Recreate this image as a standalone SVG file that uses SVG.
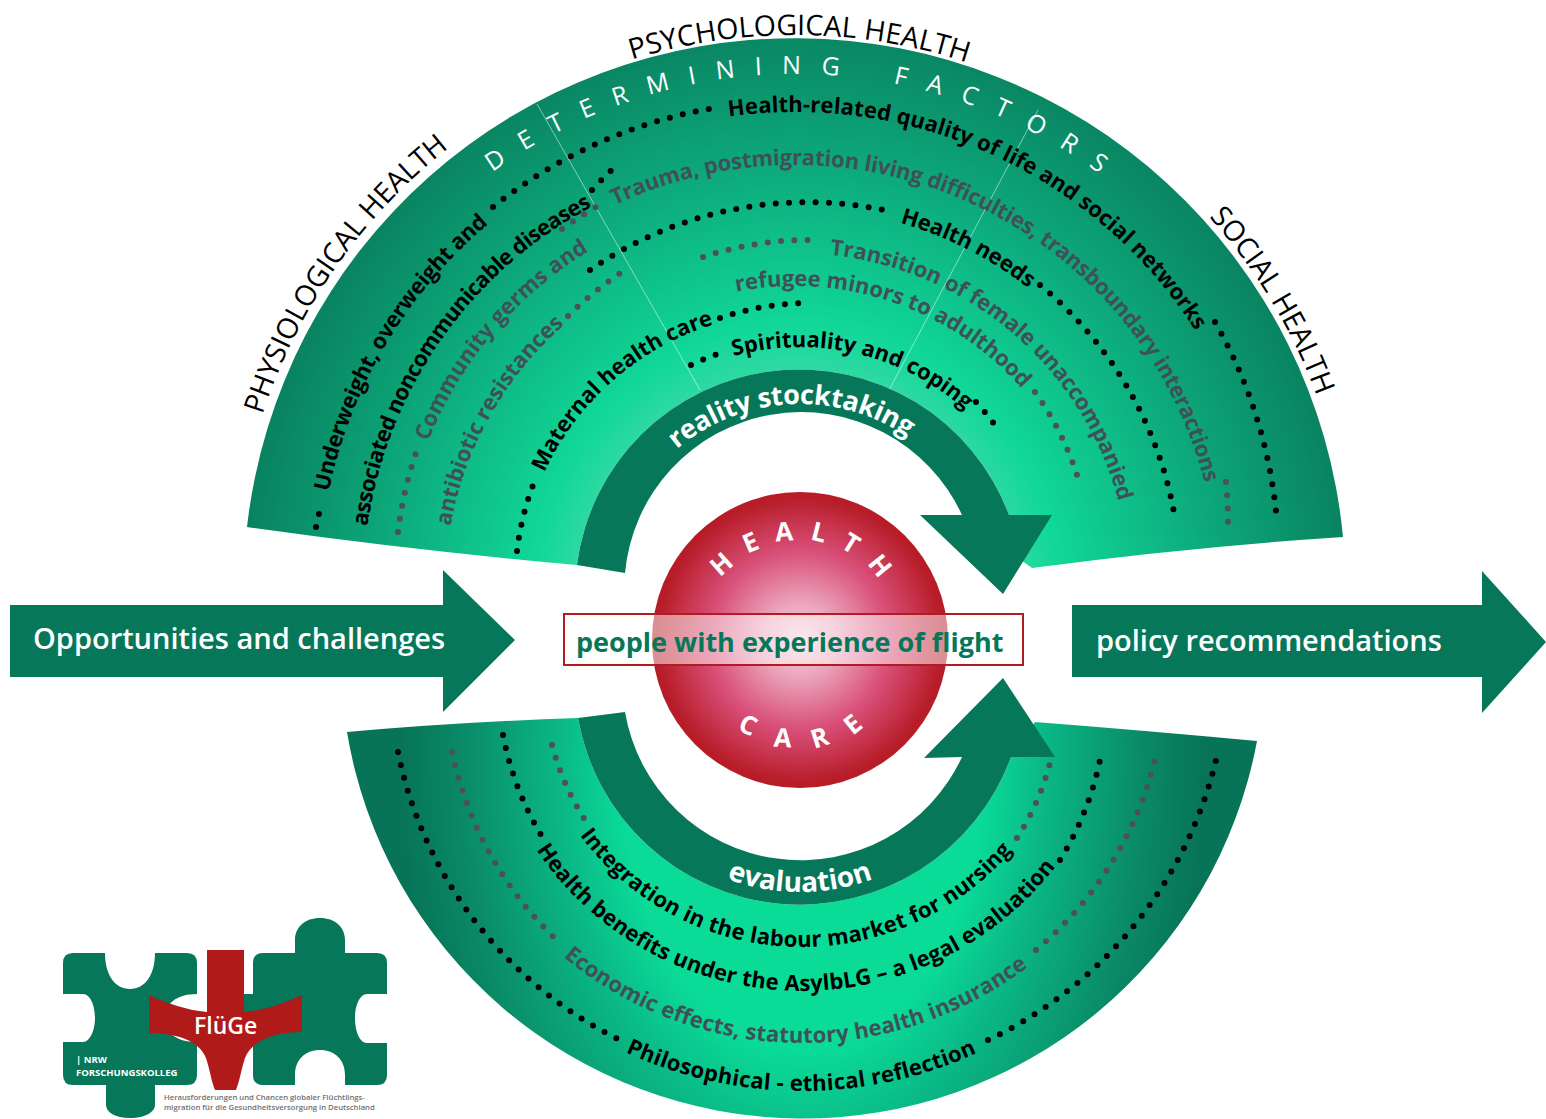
<svg xmlns="http://www.w3.org/2000/svg" xmlns:xlink="http://www.w3.org/1999/xlink" width="1546" height="1119" viewBox="0 0 1546 1119">
<style>
text{font-family:"Open Sans","Liberation Sans",sans-serif}
.b{font-weight:700;font-size:22px;fill:#000}
.g{font-weight:700;font-size:22px;fill:#3f5158}
.h{font-size:28.5px;fill:#000}
.dk{fill:none;stroke:#000;stroke-width:6;stroke-linecap:round;stroke-dasharray:0 13.3}
.dg{fill:none;stroke:#4d5058;stroke-width:6;stroke-linecap:round;stroke-dasharray:0 13.3}
.dark{fill:#07775a}
.w{fill:#fff;font-weight:700}
.ray{stroke:#fff;stroke-opacity:.5;stroke-width:1;fill:none}
</style>
<defs>
<radialGradient id="upG" gradientUnits="userSpaceOnUse" cx="0" cy="0" r="1" gradientTransform="translate(797 600) scale(560 590)">
<stop offset="0.30" stop-color="#52dcb0"/><stop offset="0.47" stop-color="#10d797"/><stop offset="0.72" stop-color="#0dac7c"/><stop offset="1" stop-color="#09805f"/>
</radialGradient>
<radialGradient id="loG" gradientUnits="userSpaceOnUse" cx="0" cy="0" r="1" gradientTransform="translate(802 760) scale(400 640)">
<stop offset="0.45" stop-color="#0adc98"/><stop offset="0.6" stop-color="#0ab986"/><stop offset="0.85" stop-color="#0a8a66"/><stop offset="1" stop-color="#077458"/>
</radialGradient>
<radialGradient id="sph" gradientUnits="userSpaceOnUse" cx="800" cy="640" r="148">
<stop offset="0" stop-color="#f4cfdc"/><stop offset="0.25" stop-color="#eba5bd"/><stop offset="0.6" stop-color="#d9507a"/><stop offset="0.97" stop-color="#b71c27"/><stop offset="1" stop-color="#b71c27"/>
</radialGradient>
<path id="p560" d="M235,588 A560 560 0 0 1 1355,588"/>
<path id="p556" d="M239,588 A556 556 0 0 1 1351,588"/>
<path id="p553" d="M242,588 A553 553 0 0 1 1348,588"/>
<path id="p514" d="M281,588 A514 514 0 0 1 1309,588"/>
<path id="p476" d="M319,588 A476 476 0 0 1 1271,588"/>
<path id="p432" d="M363,588 A432 432 0 0 1 1227,588"/>
<path id="p423" d="M372,588 A423 423 0 0 1 1218,588"/>
<path id="p395" d="M400,588 A395 395 0 0 1 1190,588"/>
<path id="p350" d="M445,588 A350 350 0 0 1 1145,588"/>
<path id="p380" d="M415,588 A380 380 0 0 1 1175,588"/>
<path id="p335" d="M460,588 A335 335 0 0 1 1130,588"/>
<path id="p302" d="M493,588 A302 302 0 0 1 1097,588"/>
<path id="p276" d="M519,588 A276 276 0 0 1 1071,588"/>
<path id="p248" d="M552,595 A248 248 0 0 1 1048,595"/>
<path id="p191" d="M609,595 A191 191 0 0 1 991,595"/>
<path id="s421" d="M381,670 A421 421 0 0 0 1223,670"/>
<path id="s373" d="M429,670 A373 373 0 0 0 1175,670"/>
<path id="s321" d="M481,670 A321 321 0 0 0 1123,670"/>
<path id="s277" d="M525,670 A277 277 0 0 0 1079,670"/>
<path id="s212" d="M588,680 A212 212 0 0 0 1012,680"/>
<path id="h100" d="M700,640 A100 100 0 0 1 900,640"/>
<path id="c108" d="M692,640 A108 108 0 0 0 908,640"/>
</defs>

<g id="fan-upper">
<path fill="url(#upG)" d="M247,527 A551 551 0 0 1 1343,537 Q1190,547 1032,568 L1000,545 L1009,515 A224 224 0 0 0 577,565 Q410,550 247,527 Z"/>
<path class="ray" d="M537,104 L700,390"/>
<path class="ray" d="M1038,110 L888,392"/>
</g>
<g id="fan-lower">
<path fill="url(#loG)" d="M347,732 A462 462 0 0 0 1257,741 Q1150,731 1035,722 L1011,757 A225 225 0 0 1 578,718 Q460,722 347,732 Z"/>
</g>

<g id="arrow-reality">
<path class="dark" d="M577,565 A224 224 0 0 1 1009,515 L1052,515 L1003,594 L920,515 L962,515 A177 177 0 0 0 625,573 Z"/>
<text class="w" font-size="27" letter-spacing="-.3"><textPath href="#p191" startOffset="166">reality stocktaking</textPath></text>
</g>
<g id="arrow-evaluation">
<path class="dark" d="M578,718 A225 225 0 0 0 1011,757 L1055,757 L1003,678 L924,758 L962,757 A178 178 0 0 1 625,712 Z"/>
<text class="w" font-size="28" font-weight="600" text-anchor="middle"><textPath href="#s212" startOffset="50%">evaluation</textPath></text>
</g>

<g id="connectors">
<path class="dk" d="M316,527 A484 484 0 0 1 322,502"/>
<path class="dk" d="M493,207 A484 484 0 0 1 720,107"/>
<path class="dk" d="M1215,322 A484 484 0 0 1 1277,522"/>
<path class="dk" d="M592,190 A450 450 0 0 1 617,165"/>
<path class="dg" d="M398,532 A400 400 0 0 1 418,447"/>
<path class="dg" d="M562,229 A430 430 0 0 1 603,203"/>
<path class="dg" d="M1226,482 A440 440 0 0 1 1228,531"/>
<path class="dg" d="M568,316 A360 360 0 0 1 622,272"/>
<path class="dk" d="M590,270 A382 382 0 0 1 893,212"/>
<path class="dk" d="M1040,285 A385 385 0 0 1 1175,518"/>
<path class="dg" d="M703,257 A345 345 0 0 1 820,240"/>
<path class="dg" d="M1035,392 A305 305 0 0 1 1077,475"/>
<path class="dk" d="M517,551 A282 282 0 0 1 535,480"/>
<path class="dk" d="M720,318 A282 282 0 0 1 808,303"/>
<path class="dk" d="M691,365 A250 250 0 0 1 718,354"/>
<path class="dk" d="M976,402 A255 255 0 0 1 997,428"/>
<path class="dk" d="M398,752 A412 412 0 0 0 620,1040"/>
<path class="dk" d="M988,1040 A418 418 0 0 0 1216,760"/>
<path class="dg" d="M452,752 A362 362 0 0 0 562,945"/>
<path class="dg" d="M1036,950 A362 362 0 0 0 1155,760"/>
<path class="dk" d="M503,735 A308 308 0 0 0 541,835"/>
<path class="dk" d="M1060,860 A310 310 0 0 0 1100,760"/>
<path class="dg" d="M552,745 A262 262 0 0 0 585,820"/>
<path class="dg" d="M1017,838 A262 262 0 0 0 1052,755"/>
</g>

<g id="labels-upper">
<text class="h"><textPath href="#p560" startOffset="176">PHYSIOLOGICAL HEALTH</textPath></text>
<text class="h"><textPath href="#p553" startOffset="703">PSYCHOLOGICAL HEALTH</textPath></text>
<text class="h"><textPath href="#p556" startOffset="1340">SOCIAL HEALTH</textPath></text>
<text fill="#fff" font-size="25" letter-spacing="20" word-spacing="8"><textPath href="#p514" startOffset="484">DETERMINING FACTORS</textPath></text>
<text class="b" letter-spacing="-.35"><textPath href="#p476" startOffset="97">Underweight, overweight and</textPath></text>
<text class="b" letter-spacing=".1"><textPath href="#p476" startOffset="681">Health-related quality of life and social networks</textPath></text>
<text class="b" letter-spacing="-.6"><textPath href="#p432" startOffset="62">associated noncommunicable diseases</textPath></text>
<text class="g" letter-spacing="-.2"><textPath href="#p423" startOffset="478">Trauma, postmigration living difficulties, transboundary interactions</textPath></text>
<text class="g" letter-spacing=".2"><textPath href="#p395" startOffset="150">Community germs and</textPath></text>
<text class="g"><textPath href="#p350" startOffset="62">antibiotic resistances</textPath></text>
<text class="b"><textPath href="#p380" startOffset="703">Health needs</textPath></text>
<text class="g"><textPath href="#p335" startOffset="561">Transition of female unaccompanied</textPath></text>
<text class="g"><textPath href="#p302" startOffset="415">refugee minors to adulthood</textPath></text>
<text class="b"><textPath href="#p276" startOffset="119">Maternal health care</textPath></text>
<text class="b"><textPath href="#p248" startOffset="322">Spirituality and coping</textPath></text>
</g>
<g id="labels-lower">
<text class="b" letter-spacing=".3"><textPath href="#s421" startOffset="479">Philosophical - ethical reflection</textPath></text>
<text class="g" letter-spacing=".2"><textPath href="#s373" startOffset="327">Economic effects, statutory health insurance</textPath></text>
<text class="b" letter-spacing=".2"><textPath href="#s321" startOffset="191">Health benefits under the AsylbLG – a legal evaluation</textPath></text>
<text class="b" letter-spacing=".25"><textPath href="#s277" startOffset="177">Integration in the labour market for nursing</textPath></text>
</g>

<g id="input-arrow">
<path class="dark" d="M10,605 H443 V570 L515,640 L443,712 V677 H10 Z"/>
<text x="33" y="649" fill="#fff" font-size="29" font-weight="600">Opportunities and challenges</text>
</g>
<g id="output-arrow">
<path class="dark" d="M1072,605 H1482 V571 L1546,642 L1482,713 V677 H1072 Z"/>
<text x="1096" y="651" fill="#fff" font-size="29" font-weight="600">policy recommendations</text>
</g>

<g id="health-care">
<circle cx="800" cy="640" r="148" fill="url(#sph)"/>
<text class="w" font-size="26" letter-spacing="16" text-anchor="middle"><textPath href="#h100" startOffset="165">HEALTH</textPath></text>
<text class="w" font-size="26" letter-spacing="23" text-anchor="middle"><textPath href="#c108" startOffset="182">CARE</textPath></text>
<rect x="564" y="614" width="459" height="51" fill="#fff" fill-opacity=".5" stroke="#b01c20" stroke-width="2"/>
<rect x="566" y="615" width="86" height="49" fill="#fff"/><rect x="948" y="615" width="74" height="49" fill="#fff"/>
<text x="576" y="652" fill="#07775a" font-size="27" font-weight="700">people with experience of flight</text>
</g>

<g id="logo">
<path fill="#07775a" d="M73,953 H105 C105,975 115,989 130,989 C145,989 155,975 155,953 H187 Q197,953 197,963 V994 C175,994 165,1005 165,1018 C165,1032 175,1042 197,1042 V1075 Q197,1085 187,1085 H155 V1105 C155,1112 145,1118 130,1118 C115,1118 106,1112 106,1105 V1085 H73 Q63,1085 63,1075 V1042 H83 C90,1042 95,1030 95,1018 C95,1005 90,994 83,994 H63 V963 Q63,953 73,953 Z"/>
<path fill="#07775a" d="M263,953 H295 V940 C295,927 305,918 320,918 C335,918 345,927 345,940 V953 H377 Q387,953 387,963 V994 H367 C360,994 355,1005 355,1018 C355,1032 360,1043 367,1043 H387 V1075 Q387,1085 377,1085 H345 V1075 C345,1060 335,1050 320,1050 C305,1050 295,1060 295,1075 V1085 H263 Q253,1085 253,1075 V1042 H225 V994 H253 V963 Q253,953 263,953 Z"/>
<path fill="#b01a18" d="M207,950 H244 V1012 C265,1010 285,1003 302,995 V1032 C275,1032 252,1040 245,1058 C241,1070 240,1080 236,1090 H215 C211,1080 210,1070 206,1058 C199,1040 175,1033 149,1033 V995 C166,1003 186,1010 207,1012 Z"/>
<text x="194" y="1034" fill="#fff" font-size="23" font-weight="600">FlüGe</text>
<text x="76" y="1063" fill="#fff" font-size="9.5" font-weight="700">| NRW</text>
<text x="76" y="1076" fill="#fff" font-size="9.5" font-weight="700">FORSCHUNGSKOLLEG</text>
<text x="164" y="1100" fill="#707070" font-size="7.7" font-weight="600">Herausforderungen und Chancen globaler Flüchtlings-</text>
<text x="164" y="1110" fill="#707070" font-size="7.7" font-weight="600">migration für die Gesundheitsversorgung in Deutschland</text>
</g>
</svg>
